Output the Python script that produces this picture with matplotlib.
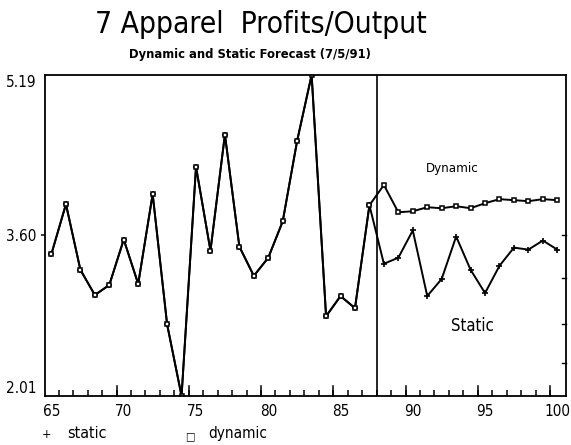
import numpy as np
import matplotlib
matplotlib.use("Agg")
import matplotlib.pyplot as plt
from matplotlib.ticker import FixedLocator

# Actuals 1965-1987 (both forecasts share history), then forecasts 1988-2000
hist_years = list(range(65, 88))
hist_values = [3.42, 3.91, 3.26, 3.01, 3.11, 3.56, 3.12, 4.01, 2.72, 2.01,
               4.28, 3.45, 4.60, 3.49, 3.20, 3.38, 3.74, 4.54, 5.19, 2.80,
               3.00, 2.88, 3.90]

fc_years = list(range(88, 101))
dynamic_fc = [4.10, 3.83, 3.84, 3.88, 3.87, 3.89, 3.87, 3.92, 3.96, 3.95,
              3.94, 3.96, 3.95]
static_fc = [3.32, 3.38, 3.65, 3.00, 3.17, 3.59, 3.26, 3.03, 3.30, 3.48,
             3.46, 3.55, 3.46]

y_ticks = [2.01, 3.60, 5.19]
x_ticks = [65, 70, 75, 80, 85, 90, 95, 100]
forecast_start = 87.5

plt.rcParams["font.family"] = ["DejaVu Sans"]
plt.rcParams["font.stretch"] = "condensed"

fig = plt.figure(figsize=(5.71, 4.45), dpi=100)
ax = fig.add_axes([0.0788, 0.1101, 0.9124, 0.7214])

years = np.array(hist_years + fc_years)
static = np.array(hist_values + static_fc)
dynamic = np.array(hist_values + dynamic_fc)

ax.plot(years, static, color="black", lw=1.4, marker="+", ms=5, mew=1.2)
ax.plot(years, dynamic, color="black", lw=1.4, marker="s", ms=3.5,
        mfc="white", mec="black", mew=1.1)

ax.axvline(forecast_start, color="black", lw=1.2)

ax.set_xlim(64.55, 100.6)
ax.set_ylim(2.01, 5.19)

for s in ax.spines.values():
    s.set_linewidth(1.3)

# x labels at whole years, tick marks between years pointing inward
ax.set_xticks(x_ticks)
ax.set_xticklabels([str(x) for x in x_ticks], fontsize=11)
ax.tick_params(axis="x", which="major", length=0, pad=6)
ax.xaxis.set_minor_locator(FixedLocator(np.arange(65.5, 100.5, 1.0)))
ax.tick_params(axis="x", which="minor", direction="in", length=4, width=1.1,
               top=False)
for xt in np.arange(69.5, 100.5, 5.0):
    ax.plot([xt, xt], [2.01, 2.01 + 0.1], color="black", lw=1.1,
            clip_on=False)

ax.set_yticks(y_ticks)
ax.set_yticklabels([f"{v:.2f}" for v in y_ticks], fontsize=11)
ax.tick_params(axis="y", which="major", length=3, width=1.1, pad=3)
labels = ax.get_yticklabels()
labels[0].set_va("bottom")
labels[2].set_va("top")
ax.yaxis.get_major_ticks()[0].tick1line.set_visible(False)
ax.yaxis.get_major_ticks()[2].tick1line.set_visible(False)

# small inward marks along the right edge
for yt in [3.60, 3.18, 2.72, 2.34]:
    ax.plot([100.6 - 0.3, 100.6], [yt, yt], color="black", lw=1.0,
            clip_on=False)

ax.text(92.7, 4.26, "Dynamic", fontsize=9.5, ha="center", va="center")
ax.text(94.1, 2.70, "Static", fontsize=12, ha="center", va="center")

fig.text(0.457, 0.945, "7 Apparel  Profits/Output", fontsize=21.5,
         ha="center", va="center")
fig.text(0.438, 0.877, "Dynamic and Static Forecast (7/5/91)", fontsize=9.3,
         ha="center", va="center", fontweight="bold")

# legend row under the axis labels
fig.text(0.082, 0.008, "+", fontsize=9, ha="center", va="bottom")
fig.text(0.117, 0.008, "static", fontsize=11.5, ha="left", va="bottom")
fig.text(0.333, 0.008, "\u25a1", fontsize=8, ha="center", va="bottom")
fig.text(0.364, 0.008, "dynamic", fontsize=11, ha="left", va="bottom")

fig.savefig("out.png", dpi=100)
